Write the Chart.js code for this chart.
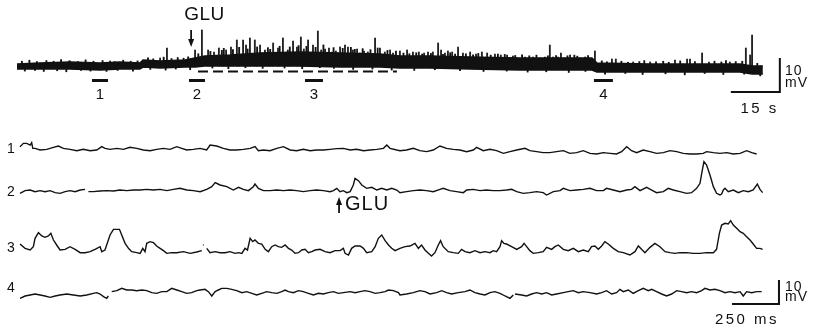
<!DOCTYPE html>
<html>
<head>
<meta charset="utf-8">
<script src="https://cdn.jsdelivr.net/npm/chart.js@4.4.1/dist/chart.umd.min.js"></script>
<style>
  body { margin: 0; background: #fff; }
  #wrap { position: relative; width: 813px; height: 329px; }
  #topTrace { position: absolute; left: 0; top: 0; }
  #detail { position: absolute; left: 0; top: 120px; }
</style>
</head>
<body>
<div id="wrap">
  <canvas id="topTrace" width="813" height="120"></canvas>
  <canvas id="detail" width="813" height="209"></canvas>
</div>
<script>
// ---- slow record (time in s, potential in mV relative to rest) ----
const bandUpper = [[0,0.59],[7,0.88],[16.2,1.18],[25.4,0.88],[31.5,1.18],[37.6,0.88],[38.6,1.76],[43.8,1.47],[51.4,1.76],[54.5,2.35],[57.5,2.94],[65.2,3.24],[74.4,3.82],[86.6,4.12],[98.9,3.82],[111.1,3.53],[117.2,2.94],[126.4,2.94],[138.7,2.65],[154,2.35],[166.2,2.35],[176,2.35],[177.5,0.88],[193.8,0.59],[209.1,0.59],[221.3,0.59],[225,0],[228.3,0]];
const bandLower = [[0,-0.88],[7,-0.88],[16.2,-0.88],[25.4,-1.18],[31.5,-0.88],[37.6,-0.88],[38.6,-0.29],[43.8,-0.59],[51.4,-0.29],[54.5,-0.29],[57.5,0],[65.2,0],[74.4,0],[86.6,0],[98.9,-0.29],[111.1,-0.29],[117.2,-0.59],[126.4,-0.59],[138.7,-0.88],[154,-1.18],[166.2,-1.18],[176,-1.18],[177.5,-1.76],[193.8,-1.76],[209.1,-1.76],[221.3,-1.76],[225,-2.35],[228.3,-2.35]];
const spikes = [[16.2,1.47],[28.5,1.47],[43.8,2.35],[45.9,5.29],[54.5,4.71],[56.6,10.59],[58.5,4.71],[60.3,4.12],[61.8,5.29],[64.0,4.71],[65.5,5.59],[67.3,7.65],[69.2,7.65],[70.1,6.18],[71.3,8.24],[72.8,7.65],[74.4,6.18],[75.9,4.71],[78.4,6.76],[79.9,5.29],[81.4,8.24],[82.9,4.71],[84.5,7.35],[85.7,5.59],[86.9,8.53],[87.8,5.0],[89.1,7.65],[90.6,6.18],[92.1,10.29],[93.1,4.71],[94.3,5.0],[95.5,5.29],[96.4,4.12],[97.6,4.41],[98.9,5.59],[100.4,6.18],[101.3,5.59],[102.8,4.71],[104.1,5.0],[105.0,3.82],[106.2,4.41],[107.4,4.12],[109.6,8.24],[111.1,5.29],[112.6,4.12],[114.2,4.71],[115.1,3.82],[117.2,4.41],[119.4,4.71],[121.2,4.12],[123.0,4.12],[124.6,3.82],[125.8,4.12],[127.3,4.12],[128.9,6.76],[129.8,4.71],[131.0,3.82],[131.9,4.41],[133.2,4.12],[135.0,5.59],[136.5,3.82],[138.7,4.12],[140.5,3.53],[142.3,4.12],[143.9,3.82],[146.3,3.53],[148.1,3.24],[150.0,3.24],[151.8,2.94],[153.0,2.35],[155.5,2.65],[157.9,2.65],[160.1,2.35],[161.6,2.65],[163.1,6.18],[164.1,2.65],[165.6,2.65],[166.5,3.82],[167.7,2.35],[169.3,3.24],[172.3,2.35],[173.9,2.65],[176.9,4.41],[182.1,2.06],[183.3,2.06],[188.6,1.18],[193.8,1.18],[201.4,1.76],[205.1,2.06],[206.0,2.06],[209.7,3.82],[211.8,1.18],[218.2,1.18],[223.1,5.29],[224.4,3.24],[225.0,9.12]];
// small noise deflections on the upper and lower edge of the record
const ripplesUp = [[1.5,1.4],[3.8,1.7],[6.1,1.3],[9.0,1.6],[11.2,1.4],[13.5,1.9],[16.0,1.5],[18.7,1.3],[21.0,1.8],[23.4,1.4],[26.2,1.6],[29.9,1.3],[32.5,1.7],[34.8,1.4],[36.9,1.5],[40.1,2.4],[41.7,2.1],[44.9,2.6],[47.3,2.2],[49.2,2.5],[51.0,2.3],[52.4,2.7],[55.5,3.6],[59.2,4.3],[62.7,4.6],[63.3,5.2],[66.1,4.8],[68.0,5.5],[70.6,5.0],[73.5,5.6],[76.8,5.4],[77.5,4.9],[80.4,5.8],[83.5,5.6],[86.2,6.0],[88.6,5.8],[91.4,5.5],[93.8,6.2],[96.9,5.4],[99.7,5.2],[102.2,5.5],[103.4,4.9],[105.8,5.1],[108.2,4.8],[110.4,5.3],[113.4,4.6],[116.0,4.4],[118.3,3.8],[120.1,3.6],[122.2,3.9],[124.0,3.5],[126.7,3.7],[130.4,3.4],[132.6,3.9],[134.1,3.5],[137.4,3.6],[139.6,3.3],[141.2,3.7],[145.0,3.2],[147.2,3.5],[149.3,3.4],[152.5,3.1],[154.6,3.3],[156.8,3.0],[159.0,3.2],[162.5,3.0],[165.0,3.1],[168.5,3.0],[170.6,3.2],[171.5,2.9],[174.8,3.1],[179.0,1.5],[180.6,1.2],[185.0,1.4],[187.0,1.1],[190.5,1.3],[192.0,1.6],[195.6,1.2],[197.8,1.4],[199.5,1.1],[203.0,1.5],[207.5,1.3],[213.5,1.4],[215.6,1.2],[217.0,1.6],[220.0,1.3],[222.0,1.4],[226.6,0.8]];
const ripplesDown = [[2.4,-1.5],[5.5,-1.3],[8.2,-1.6],[12.3,-1.4],[15.1,-1.7],[19.6,-1.3],[22.5,-1.5],[27.4,-1.6],[30.8,-1.3],[35.5,-1.5],[40.8,-1.0],[45.5,-1.2],[48.6,-0.9],[53.0,-1.1],[59.8,-0.6],[64.7,-0.8],[69.9,-0.5],[75.2,-0.7],[81.9,-0.6],[87.3,-0.8],[92.7,-0.5],[97.0,-0.7],[102.9,-1.0],[108.8,-0.9],[114.7,-1.2],[121.6,-1.3],[127.9,-1.1],[135.6,-1.4],[142.8,-1.6],[149.9,-1.5],[156.3,-1.8],[162.0,-1.7],[168.9,-1.9],[174.0,-1.6],[180.0,-2.4],[186.2,-2.2],[191.5,-2.5],[198.5,-2.3],[204.4,-2.6],[210.5,-2.2],[216.2,-2.5],[222.6,-2.4],[227.5,-2.9]];
const gluPeriod = [55.4, 116.3];
const sampleWindows = [[22.96,27.85],[52.65,57.55],[88.15,93.66],[176.6,182.4]];
const sampleLabels = ['1', '2', '3', '4'];

// ---- fast sweeps (time in ms, potential in mV relative to each baseline) ----
const trace1 = [[0,1.39],[18,2.78],[36,2.78],[54,2.08],[62,3.06],[68,0.69],[80,0.69],[107,0],[142,0.28],[178,1.11],[204,1.67],[231,0.69],[266,0.28],[302,-0.28],[337,0.28],[373,-0.28],[408,0],[435,1.39],[452,0.69],[479,0.28],[515,0.69],[550,0.28],[585,1.11],[621,0.69],[656,0],[692,-0.28],[727,0.28],[763,0.69],[798,0.28],[834,1.39],[860,0.69],[887,0],[922,0.28],[958,0.69],[993,0],[1011,2.08],[1046,1.67],[1082,0.69],[1117,0],[1153,0],[1188,0.28],[1224,0.69],[1250,1.39],[1268,-0.28],[1295,0],[1330,-0.28],[1366,0.69],[1401,1.39],[1437,0],[1472,-0.28],[1507,0.28],[1543,-0.28],[1578,0],[1614,0],[1649,0.28],[1685,0.56],[1720,0.69],[1756,0],[1791,0.28],[1827,-0.28],[1862,0],[1898,0.28],[1933,0.69],[1951,2.08],[1968,0.69],[2004,0],[2021,-0.28],[2056,0],[2092,0.69],[2127,-0.28],[2163,-0.69],[2198,0],[2234,1.67],[2269,0.69],[2305,0.28],[2340,0],[2376,-0.69],[2411,0],[2429,1.11],[2464,-0.28],[2500,0.28],[2535,-0.28],[2571,-1.39],[2606,-0.69],[2642,0],[2686,0.69],[2712,-0.28],[2748,-0.69],[2783,-1.11],[2819,-1.11],[2854,-0.69],[2890,-0.28],[2925,-1.39],[2961,-1.11],[2996,-0.28],[3032,-1.39],[3067,-1.67],[3103,-1.11],[3138,-1.39],[3173,-1.67],[3200,-0.69],[3227,1.39],[3253,-0.28],[3280,-1.11],[3315,0],[3351,-0.69],[3386,-1.39],[3422,-1.11],[3457,-0.28],[3493,-0.69],[3528,-1.39],[3564,-1.67],[3599,-1.67],[3634,-1.39],[3652,-0.69],[3688,-1.11],[3723,-1.39],[3759,-1.11],[3794,-1.67],[3830,-1.39],[3865,-0.28],[3892,-1.11],[3918,-1.67]];
const trace2 = [[0,-0.56],[27,0.56],[54,0.83],[80,0.14],[107,0.56],[133,0.14],[160,0.56],[187,-0.28],[213,-0.56],[240,0.14],[266,0.56],[293,0.14],[320,0.83],[346,1.11],[355,null],[364,0.14],[390,0.14],[426,0.42],[461,0.56],[497,0.42],[532,0.83],[568,0.56],[603,0.83],[639,0.83],[674,1.11],[710,0.83],[745,1.11],[781,0.56],[816,1.11],[851,1.53],[887,0.83],[922,0.56],[958,0.14],[993,1.11],[1020,2.22],[1038,3.89],[1064,2.92],[1100,2.22],[1135,0.83],[1162,1.94],[1188,1.11],[1215,0.56],[1241,2.22],[1250,3.33],[1268,1.53],[1295,0.56],[1330,0.56],[1366,0.83],[1401,0.56],[1437,0.83],[1472,0.56],[1507,0.14],[1543,0.56],[1578,0.83],[1614,0.56],[1649,0.14],[1667,0.56],[1685,1.53],[1702,0.14],[1720,0.56],[1738,-0.28],[1756,0.14],[1773,2.92],[1782,5.69],[1800,4.72],[1818,2.92],[1844,1.53],[1871,1.94],[1898,0.83],[1924,1.53],[1951,0.83],[1977,1.53],[2004,0.83],[2021,-0.28],[2056,0.14],[2092,0.56],[2127,0.83],[2163,0.56],[2198,0.14],[2234,1.11],[2251,1.53],[2287,0.56],[2322,0.14],[2358,-0.28],[2376,0.83],[2411,1.11],[2447,0.56],[2482,0.83],[2517,0.56],[2553,0.56],[2588,0.83],[2615,1.11],[2642,0.14],[2677,-0.56],[2712,-0.28],[2748,0.14],[2783,-0.28],[2801,-1.25],[2837,0.14],[2872,0.56],[2890,1.53],[2925,0.56],[2961,0.83],[2996,1.11],[3032,1.53],[3067,0.56],[3103,0.56],[3120,1.53],[3156,0.83],[3191,0.14],[3227,0.83],[3253,1.11],[3271,2.22],[3298,0.56],[3333,1.94],[3360,0.83],[3386,-0.28],[3422,0.14],[3448,1.53],[3475,0.83],[3510,0.14],[3546,-0.56],[3572,-0.28],[3599,1.53],[3617,3.61],[3626,7.78],[3638,12.64],[3652,11.25],[3670,7.08],[3688,2.22],[3705,-0.56],[3723,-1.25],[3732,-0.83],[3741,0.83],[3750,1.53],[3767,0.14],[3794,0.83],[3821,-0.28],[3847,0.56],[3874,0.14],[3900,0.83],[3922,3.33],[3936,1.11],[3950,-0.28]];
const trace3 = [[0,3.33],[27,1.53],[54,0.83],[71,2.22],[80,5.69],[98,8.06],[116,6.67],[133,6.11],[151,6.67],[164,7.78],[178,5.0],[195,2.92],[213,0.83],[240,1.11],[266,2.22],[293,1.11],[320,-0.28],[346,-0.28],[373,0.14],[399,1.11],[426,2.22],[435,0.14],[452,0.83],[461,2.92],[479,7.08],[497,9.44],[515,9.44],[529,9.44],[541,7.08],[559,3.61],[577,1.53],[594,0.14],[621,-0.28],[639,-0.56],[653,1.53],[665,0.14],[674,3.61],[692,4.31],[710,3.89],[727,2.5],[745,1.53],[763,0.56],[781,-0.56],[807,-0.28],[834,-0.28],[869,0.14],[905,-0.56],[940,0],[967,0.56],[970,null],[973,2.92],[977,2.92],[980,null],[993,1.53],[1011,-0.28],[1038,0.14],[1064,-0.28],[1091,-0.28],[1117,0.14],[1144,-0.56],[1162,-0.28],[1180,-0.56],[1197,1.53],[1210,0.83],[1224,5.69],[1238,4.31],[1250,5.0],[1268,3.61],[1286,3.33],[1304,1.11],[1321,0.14],[1339,2.22],[1357,2.92],[1374,2.22],[1392,1.94],[1410,2.92],[1428,1.53],[1445,0.83],[1463,-0.56],[1481,-0.28],[1499,0.83],[1516,1.11],[1534,-0.28],[1552,0.14],[1570,0.83],[1596,1.11],[1623,0.14],[1649,-0.28],[1676,0.56],[1702,0.56],[1720,1.53],[1729,-0.56],[1747,-1.25],[1764,1.53],[1782,2.5],[1809,2.5],[1827,1.53],[1844,-0.28],[1871,0.14],[1889,2.22],[1906,5.69],[1924,7.08],[1942,4.72],[1960,2.92],[1977,1.53],[1995,0.56],[2021,1.53],[2048,2.22],[2074,2.5],[2101,3.61],[2119,1.53],[2136,2.92],[2154,0.83],[2172,-0.56],[2189,-1.67],[2207,-0.28],[2225,2.92],[2237,4.72],[2251,2.22],[2278,0.14],[2305,-0.28],[2331,-0.56],[2349,1.11],[2367,0.14],[2393,-0.28],[2420,0.56],[2447,-0.28],[2473,0.14],[2500,-0.28],[2517,0.56],[2535,0.14],[2553,2.22],[2562,4.72],[2574,3.61],[2588,3.33],[2615,2.22],[2642,1.11],[2668,2.22],[2681,3.61],[2695,2.22],[2712,0.56],[2730,-0.56],[2757,-0.28],[2783,0.14],[2801,1.94],[2828,1.11],[2845,2.22],[2863,2.92],[2890,1.11],[2916,0.56],[2943,1.53],[2970,0.14],[2996,0.83],[3023,0.14],[3040,2.22],[3058,2.5],[3076,1.11],[3094,2.5],[3111,4.31],[3129,3.33],[3156,1.53],[3182,0.14],[3209,-0.28],[3244,-1.25],[3271,0.14],[3289,2.5],[3306,1.11],[3324,-0.28],[3351,1.94],[3377,3.61],[3404,2.22],[3431,0.14],[3457,-0.28],[3484,-0.56],[3510,-0.28],[3546,-0.28],[3581,-0.56],[3617,-0.56],[3652,-0.28],[3688,-0.28],[3705,1.11],[3720,7.78],[3732,11.25],[3750,11.94],[3767,11.67],[3780,13.06],[3794,11.25],[3812,9.86],[3830,8.47],[3847,7.78],[3865,6.39],[3883,5.0],[3900,3.33],[3918,1.53],[3936,1.53],[3950,1.11]];
const trace4 = [[0,-2.22],[27,-1.25],[54,-0.83],[80,-0.42],[107,-0.83],[133,-1.25],[160,-1.81],[187,-1.25],[213,-0.83],[249,-0.42],[284,-0.83],[320,-1.25],[355,-0.83],[390,-0.14],[408,0.14],[426,-0.42],[444,-1.53],[461,-2.22],[470,-1.25],[478,null],[488,0.56],[515,0.97],[541,1.94],[568,1.25],[594,1.25],[621,0.97],[648,1.25],[674,0.97],[701,0.14],[727,-0.14],[754,0.56],[781,0.56],[807,1.94],[834,1.25],[860,0.56],[887,-0.14],[913,0.14],[940,0.97],[958,1.25],[984,1.53],[1002,0.56],[1020,-1.25],[1038,0.56],[1055,1.25],[1073,1.94],[1100,1.94],[1126,1.53],[1153,0.97],[1180,0.14],[1206,0.56],[1233,-0.14],[1259,-0.83],[1286,-0.14],[1312,0.56],[1339,0.14],[1366,-0.14],[1392,0.56],[1410,1.25],[1428,0.56],[1454,0.14],[1481,0.97],[1507,0.56],[1534,-0.14],[1561,-0.83],[1587,-0.14],[1614,-0.42],[1640,0.14],[1667,0.56],[1694,-0.14],[1720,0.14],[1756,0.56],[1782,0.14],[1809,0.56],[1835,0.97],[1862,0.56],[1889,-0.14],[1915,0.14],[1942,0.56],[1960,1.25],[1986,0.97],[2013,0.14],[2021,-0.83],[2056,-0.42],[2092,0.14],[2127,0.97],[2154,0.56],[2181,-0.42],[2216,0.14],[2243,0.97],[2269,0.14],[2296,-0.42],[2331,0.14],[2367,0.56],[2393,1.25],[2420,0.14],[2447,-0.42],[2473,-0.83],[2500,0.14],[2526,0.56],[2553,-0.14],[2580,-1.25],[2606,-2.22],[2624,-0.83],[2628,null],[2633,-0.42],[2668,-0.83],[2695,-1.25],[2721,-0.42],[2748,0.14],[2775,-0.42],[2801,0.14],[2828,-0.83],[2854,-0.42],[2890,0.14],[2916,0.56],[2943,0.97],[2970,0.14],[2996,0.56],[3032,0.14],[3067,-0.42],[3094,0.14],[3120,0.97],[3147,-0.42],[3173,0.14],[3191,1.53],[3209,0.56],[3235,1.25],[3262,-0.14],[3289,0.97],[3315,1.94],[3342,0.97],[3360,1.53],[3386,0.56],[3413,-0.42],[3439,-1.25],[3466,-0.42],[3493,0.97],[3519,0.56],[3546,0.14],[3572,0.56],[3599,0.14],[3626,0.97],[3643,1.94],[3670,1.25],[3696,1.53],[3723,0.97],[3750,0.14],[3776,0.56],[3803,0.14],[3830,0.56],[3847,-1.25],[3865,0.56],[3892,0.14],[3918,0.56],[3945,0.56]];
const sweeps = [trace1, trace2, trace3, trace4];
const sweepLabels = ['1', '2', '3', '4'];
const gluTimeMs = 1697;

// layout (vertical offsets of the sweeps, in mV on the lower chart)
const sweepOffsets = [74.58, 57.08, 32.08, 15.0];

const INK = '#111';
const FONT = '"Liberation Sans", Arial, Helvetica, sans-serif';

function pts(arr, off) {
    return arr.map(p => ({ x: p[0], y: p[1] === null ? null : p[1] + off }));
}

function arrow(ctx, x, y0, y1) {
    // shaft from y0 to tip y1
    const dir = y1 > y0 ? 1 : -1;
    ctx.save();
    ctx.strokeStyle = INK;
    ctx.fillStyle = INK;
    ctx.lineWidth = 1.8;
    ctx.beginPath();
    ctx.moveTo(x, y0);
    ctx.lineTo(x, y1 - dir * 6);
    ctx.stroke();
    ctx.beginPath();
    ctx.moveTo(x - 3, y1 - dir * 8);
    ctx.lineTo(x + 3, y1 - dir * 8);
    ctx.lineTo(x, y1);
    ctx.closePath();
    ctx.fill();
    ctx.restore();
}

const notesPlugin = {
    id: 'notes',
    afterDatasetsDraw(chart, args, opts) {
        const { ctx } = chart;
        const sx = chart.scales.x, sy = chart.scales.y;
        (opts.texts || []).forEach(n => {
            ctx.save();
            ctx.font = n.font;
            ctx.fillStyle = INK;
            ctx.textAlign = n.align || 'center';
            ctx.textBaseline = 'middle';
            if (n.spacing) ctx.letterSpacing = n.spacing;
            ctx.fillText(n.text, sx.getPixelForValue(n.x), sy.getPixelForValue(n.y));
            ctx.restore();
        });
        (opts.arrows || []).forEach(a => {
            arrow(ctx, sx.getPixelForValue(a.x), sy.getPixelForValue(a.from), sy.getPixelForValue(a.to));
        });
    }
};

function hiddenScales(xr, yr) {
    return {
        x: { type: 'linear', min: xr[0], max: xr[1], display: false, offset: false },
        y: { type: 'linear', min: yr[0], max: yr[1], display: false }
    };
}

function spikeBars(list, color) {
    return { type: 'bar', data: list.map(s => ({ x: s[0], y: [0, s[1]] })), backgroundColor: color,
             barThickness: 1.2, grouped: false };
}

// ---------- top: whole experiment ----------
const topTexts = sampleWindows.map((w, i) => ({
    text: sampleLabels[i], x: (w[0] + w[1]) / 2, y: -8.4, font: '15px ' + FONT
}));
topTexts.push({ text: 'GLU', x: 57.4, y: 15.0, font: '19px ' + FONT, spacing: '0.5px' });
topTexts.push({ text: '10', x: 235.1, y: -1.5, font: '14px ' + FONT, align: 'left', spacing: '1px' });
topTexts.push({ text: 'mV', x: 235.1, y: -5.0, font: '14px ' + FONT, align: 'left', spacing: '1px' });
topTexts.push({ text: '15 s', x: 227.3, y: -12.6, font: '15px ' + FONT, spacing: '2.5px' });

new Chart(document.getElementById('topTrace'), {
    type: 'line',
    data: {
        datasets: [
            { data: bandUpper.map(p => ({ x: p[0], y: p[1] })), borderColor: INK, backgroundColor: INK,
              borderWidth: 1.6, pointRadius: 0, fill: '+1' },
            { data: bandLower.map(p => ({ x: p[0], y: p[1] })), borderColor: INK,
              borderWidth: 1.6, pointRadius: 0, fill: false },
            spikeBars(spikes, '#222'),
            spikeBars(ripplesUp, '#111'),
            spikeBars(ripplesDown, '#111'),
            { data: [{ x: gluPeriod[0], y: -1.62 }, { x: gluPeriod[1], y: -1.62 }], borderColor: INK,
              borderWidth: 2.2, borderDash: [10, 5], pointRadius: 0, fill: false },
            { data: sampleWindows.flatMap(w => [{ x: w[0], y: -4.26 }, { x: w[1], y: -4.26 }, { x: w[1], y: null }]),
              borderColor: INK, borderWidth: 3, pointRadius: 0, fill: false, spanGaps: false },
            { data: [{ x: 233.5 - 15, y: -7.65 }, { x: 233.5, y: -7.65 }, { x: 233.5, y: -7.65 + 10 }],
              borderColor: INK, borderWidth: 2, pointRadius: 0, fill: false }
        ]
    },
    options: {
        responsive: false,
        devicePixelRatio: 1,
        animation: false,
        layout: { padding: 0 },
        scales: hiddenScales([-5.2, 243.65], [-15.88, 19.41]),
        elements: { line: { tension: 0 } },
        plugins: {
            legend: { display: false },
            tooltip: { enabled: false },
            notes: { texts: topTexts, arrows: [{ x: 53.3, from: 10.6, to: 5.6 }] }
        }
    },
    plugins: [notesPlugin]
});

// ---------- bottom: fast sweeps ----------
const detailTexts = sweepLabels.map((s, i) => ({
    text: s, x: -48, y: sweepOffsets[i] + [0.4, 0, 1.7, 2.1][i], font: '14px ' + FONT
}));
detailTexts.push({ text: 'GLU', x: 1729, y: 51.7, font: '20px ' + FONT, align: 'left', spacing: '1px' });
detailTexts.push({ text: '10', x: 4069, y: 17.5, font: '14px ' + FONT, align: 'left', spacing: '1px' });
detailTexts.push({ text: 'mV', x: 4069, y: 13.3, font: '14px ' + FONT, align: 'left', spacing: '1px' });
detailTexts.push({ text: '250 ms', x: 3867, y: 3.75, font: '15px ' + FONT, spacing: '2.5px' });

new Chart(document.getElementById('detail'), {
    type: 'line',
    data: {
        datasets: sweeps.map((tr, i) => ({
            data: pts(tr, sweepOffsets[i]), borderColor: INK, borderWidth: 1.4,
            pointRadius: 0, fill: false, spanGaps: false
        })).concat([
            { data: [{ x: 4037 - 250, y: 10.42 }, { x: 4037, y: 10.42 }, { x: 4037, y: 10.42 + 10 }],
              borderColor: INK, borderWidth: 2, pointRadius: 0, fill: false }
        ])
    },
    options: {
        responsive: false,
        devicePixelRatio: 1,
        animation: false,
        layout: { padding: 0 },
        scales: hiddenScales([-106.4, 4218], [0, 87.08]),
        elements: { line: { tension: 0 } },
        plugins: {
            legend: { display: false },
            tooltip: { enabled: false },
            notes: { texts: detailTexts, arrows: [{ x: gluTimeMs, from: 48.3, to: 55.0 }] }
        }
    },
    plugins: [notesPlugin]
});
</script>
</body>
</html>
